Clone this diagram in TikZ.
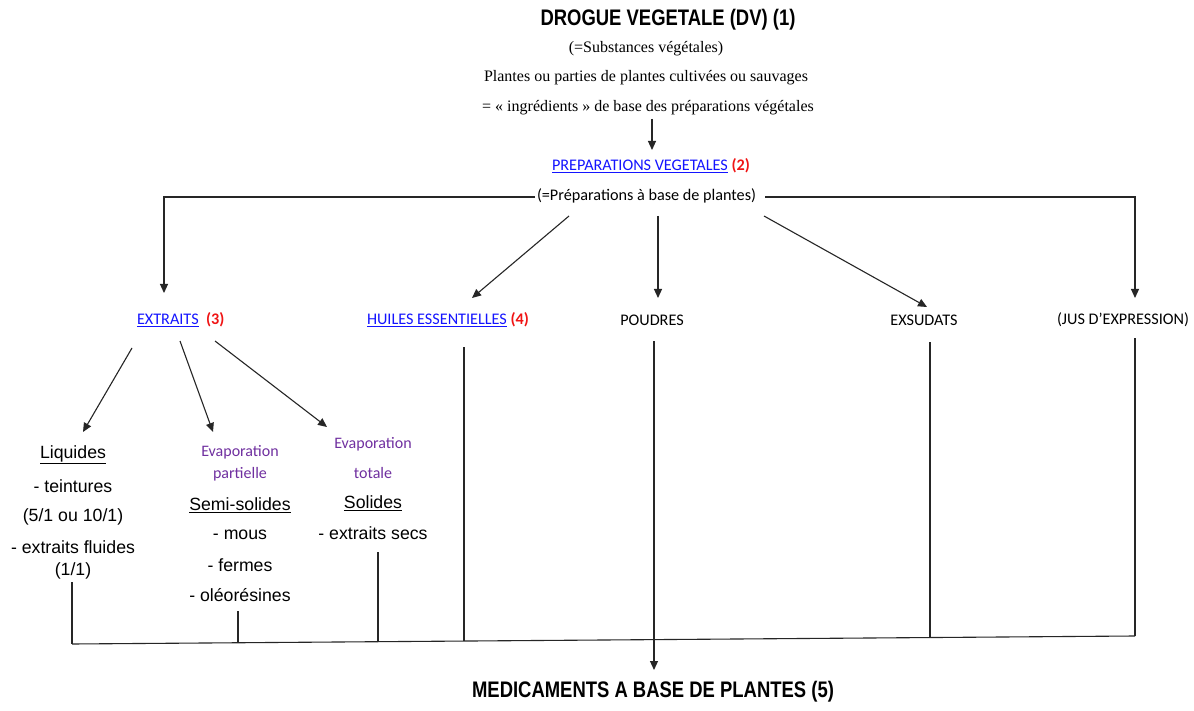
\documentclass[tikz,border=0pt]{standalone}
\usepackage{fontspec}
\usepackage{graphicx}
\setmainfont{Liberation Serif}
\newfontfamily\arialf{Liberation Sans}
\newfontfamily\calibf{Carlito}
\usetikzlibrary{arrows.meta}
\definecolor{lnk}{RGB}{20,20,255}
\definecolor{rd}{RGB}{240,20,20}
\definecolor{purp}{RGB}{112,48,160}
\begin{document}
\begin{tikzpicture}[x=1pt,y=-1pt,
  every node/.style={inner sep=0pt, outer sep=0pt},
  ln/.style={line width=1.1pt, draw=black!85},
  arr/.style={ln, -{Triangle[length=9pt,width=8pt]}},
  ttl/.style={font=\arialf\bfseries\fontsize{22.5}{24}\selectfont},
  tms/.style={font=\fontsize{16}{18}\selectfont},
  cal/.style={font=\calibf\fontsize{16.2}{18}\selectfont},
  pur/.style={font=\calibf\fontsize{16}{18}\selectfont, text=purp},
  ari/.style={font=\arialf\fontsize{17.7}{20}\selectfont},
]
\fill[white] (0,0) rectangle (1194,711);
\useasboundingbox (0,0) rectangle (1194,711);

% top
\node[ttl] (dv) at (668,20) {\scalebox{0.82}[1]{DROGUE VEGETALE (DV) (1)}};
\node[tms] (subst) at (646,49) {(=Substances végétales)};
\node[tms] (plantes) at (646,78) {Plantes ou parties de plantes cultivées ou sauvages};
\node[tms] (ingr) at (648,108) {= « ingrédients » de base des préparations végétales};
\coordinate (a1s) at (652,119);
\coordinate (a1e) at (652,150);
\draw[arr] (a1s) -- (a1e);

\node[cal, anchor=west] (prep) at (552,166) {\textcolor{lnk}{\underline{PREPARATIONS VEGETALES}} \textcolor{rd}{\bfseries(2)}};
\node[cal, anchor=west] (prepsub) at (537,196) {(=Préparations à base de plantes)};

% level 2
\node[cal, anchor=west] (extr) at (137,320) {\textcolor{lnk}{\underline{EXTRAITS}}\ \ \textcolor{rd}{\bfseries(3)}};
\node[cal, anchor=west] (huiles) at (367,320) {\textcolor{lnk}{\underline{HUILES ESSENTIELLES}} \textcolor{rd}{\bfseries(4)}};
\node[cal] (poudres) at (652,320) {POUDRES};
\node[cal] (exsud) at (924,320) {EXSUDATS};
\node[cal] (jus) at (1123,320) {(JUS D’EXPRESSION)};

% connectors from preparations
\coordinate (hLs) at (535,197);
\coordinate (hL) at (164,197);
\coordinate (exTop) at (164,293);
\draw[arr] (hLs) -- (hL) -- (exTop);
\coordinate (hRs) at (765,197);
\coordinate (hR) at (1135,197);
\coordinate (jusTop) at (1135,298);
\draw[arr] (hRs) -- (hR) -- (jusTop);
\draw[line width=1.7pt, black!75] (930,197) -- (950,197);
\coordinate (d1s) at (569,216);
\coordinate (d1e) at (472,298);
\draw[arr] (d1s) -- (d1e);
\coordinate (d2s) at (658,216);
\coordinate (d2e) at (658,298);
\draw[arr] (d2s) -- (d2e);
\coordinate (d3s) at (764,216);
\coordinate (d3e) at (927,307);
\draw[arr] (d3s) -- (d3e);

% extraits sub-columns
\node[ari] (liq) at (73,455) {\underline{Liquides}};
\node[ari] (liq2) at (73,486) {- teintures};
\node[ari] (liq3) at (73,517) {(5/1 ou 10/1)};
\node[ari] (liq4) at (73,547) {- extraits fluides};
\node[ari] (liq5) at (73,571) {(1/1)};

\node[pur] (evp1) at (240,452) {Evaporation};
\node[pur] (evp2) at (240,474) {partielle};
\node[ari] (semi) at (240,505) {\underline{Semi-solides}};
\node[ari] (semi2) at (240,535) {- mous};
\node[ari] (semi3) at (240,565) {- fermes};
\node[ari] (semi4) at (240,595) {- oléorésines};

\node[pur] (evt1) at (373,444) {Evaporation};
\node[pur] (evt2) at (373,473) {totale};
\node[ari] (sol) at (373,503) {\underline{Solides}};
\node[ari] (sol2) at (373,533) {- extraits secs};

\coordinate (e1s) at (132,348);
\coordinate (e1e) at (83,432);
\draw[arr] (e1s) -- (e1e);
\coordinate (e2s) at (180,341);
\coordinate (e2e) at (213,432);
\draw[arr] (e2s) -- (e2e);
\coordinate (e3s) at (215,341);
\coordinate (e3e) at (327,427);
\draw[arr] (e3s) -- (e3e);

% bottom collector
\coordinate (bL) at (72,644);
\coordinate (bR) at (1135,636);
\draw[ln] (bL) -- (bR);
\coordinate (v1) at (72,582);
\draw[ln] (v1) -- (bL);
\coordinate (v2s) at (238,611);
\coordinate (v2e) at (238,642.8);
\draw[ln] (v2s) -- (v2e);
\coordinate (v3s) at (378,552);
\coordinate (v3e) at (378,641.7);
\draw[ln] (v3s) -- (v3e);
\coordinate (v4s) at (464,347);
\coordinate (v4e) at (464,641);
\draw[ln] (v4s) -- (v4e);
\coordinate (v5s) at (930,342);
\coordinate (v5e) at (930,637.5);
\draw[ln] (v5s) -- (v5e);
\coordinate (v6s) at (1135,338);
\draw[ln] (v6s) -- (bR);

\node[ttl] (med) at (653,692) {\scalebox{0.82}[1]{MEDICAMENTS A BASE DE PLANTES (5)}};
\coordinate (pds) at (654,341);
\coordinate (pde) at (654,670);
\draw[arr] (pds) -- (pde);
\end{tikzpicture}
\end{document}
